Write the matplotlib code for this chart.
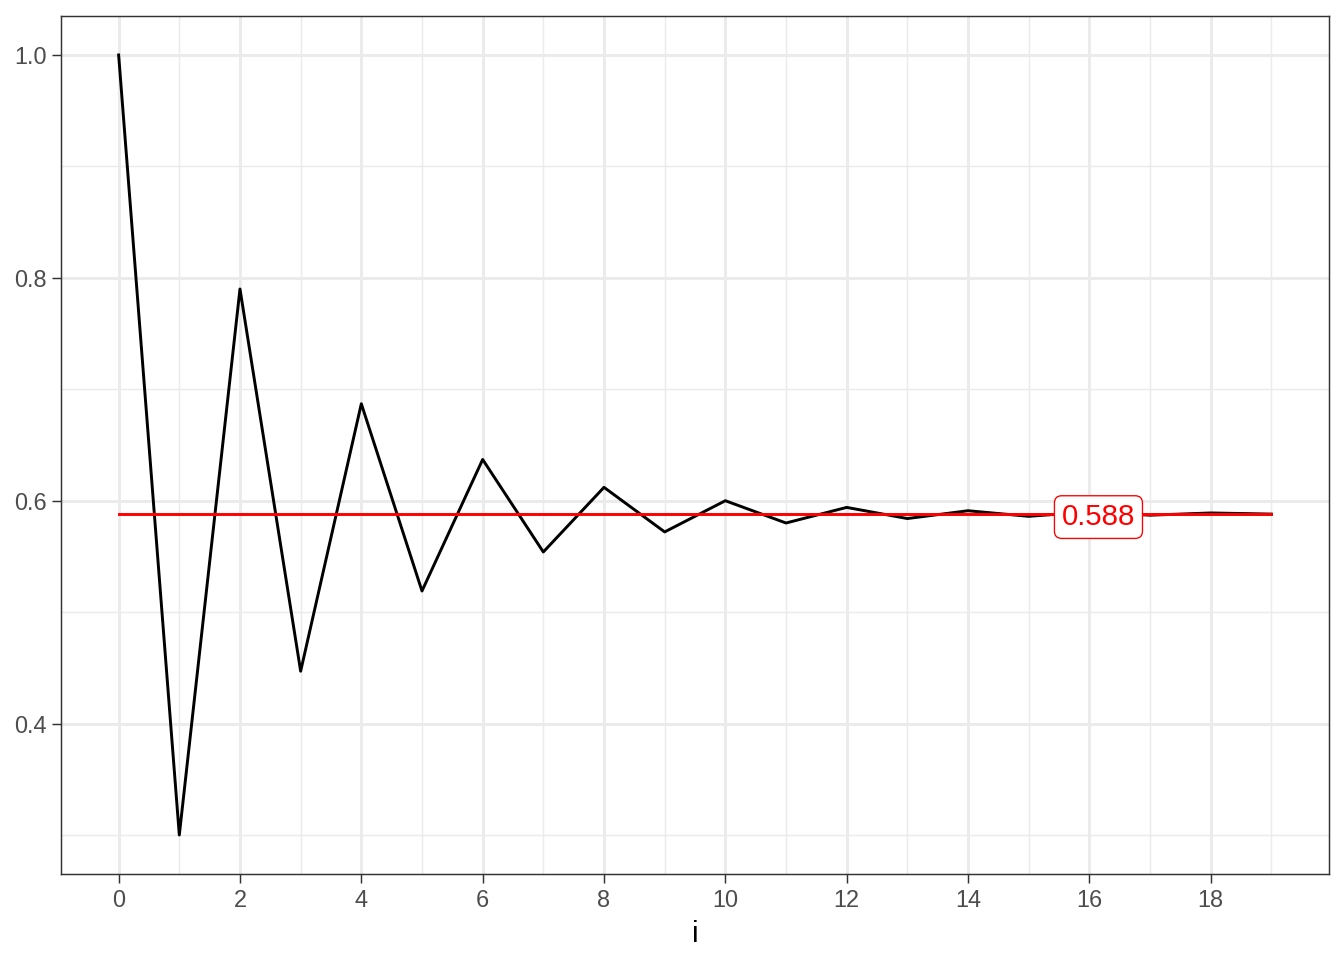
import numpy as np
import matplotlib.pyplot as plt
from matplotlib.ticker import MultipleLocator

plt.rcParams['font.family'] = ['Liberation Sans', 'DejaVu Sans']

# iteration values
i_vals = list(range(20))
x_vals = [1.0, 0.300, 0.790, 0.447, 0.687, 0.519, 0.637, 0.554, 0.612, 0.572,
          0.600, 0.580, 0.594, 0.584, 0.591, 0.586, 0.590, 0.587, 0.589, 0.588]
limit = 0.588
label_x = 16.15

fig = plt.figure(figsize=(7, 5), dpi=192)
ax = fig.add_axes([61 / 1344, 1 - 874 / 960, (1329 - 61) / 1344, (874 - 16) / 960])

# ggplot-like theme_bw
grid_col = "#EBEBEB"
ax.set_axisbelow(True)
ax.xaxis.set_major_locator(MultipleLocator(2))
ax.xaxis.set_minor_locator(MultipleLocator(1))
ax.yaxis.set_major_locator(MultipleLocator(0.2))
ax.yaxis.set_minor_locator(MultipleLocator(0.1))
ax.grid(which="major", color=grid_col, linewidth=1.1)
ax.grid(which="minor", color=grid_col, linewidth=0.55)
for s in ax.spines.values():
    s.set_color("#333333")
    s.set_linewidth(0.55)
ax.tick_params(which="major", length=3.5, width=0.55, color="#333333",
               labelsize=8.8, labelcolor="#4D4D4D", pad=2)
ax.tick_params(which="minor", length=0)

ax.plot(i_vals, x_vals, color="black", linewidth=1.1)
ax.plot([i_vals[0], i_vals[-1]], [limit, limit], color="red", linewidth=1.1)
ax.text(label_x, limit, f"{limit:.3f}", color="red", fontsize=11,
        ha="center", va="center_baseline",
        bbox=dict(boxstyle="round,pad=0.25,rounding_size=0.25", fc="white",
                  ec="red", lw=0.5))

ax.set_xlim(-0.95, 19.95)
ax.set_ylim(0.265, 1.035)
ax.yaxis.set_major_formatter(plt.FuncFormatter(lambda v, p: f"{v:.1f}"))
ax.set_xlabel("i", fontsize=11, labelpad=3)

fig.savefig("out.png", dpi=192)
